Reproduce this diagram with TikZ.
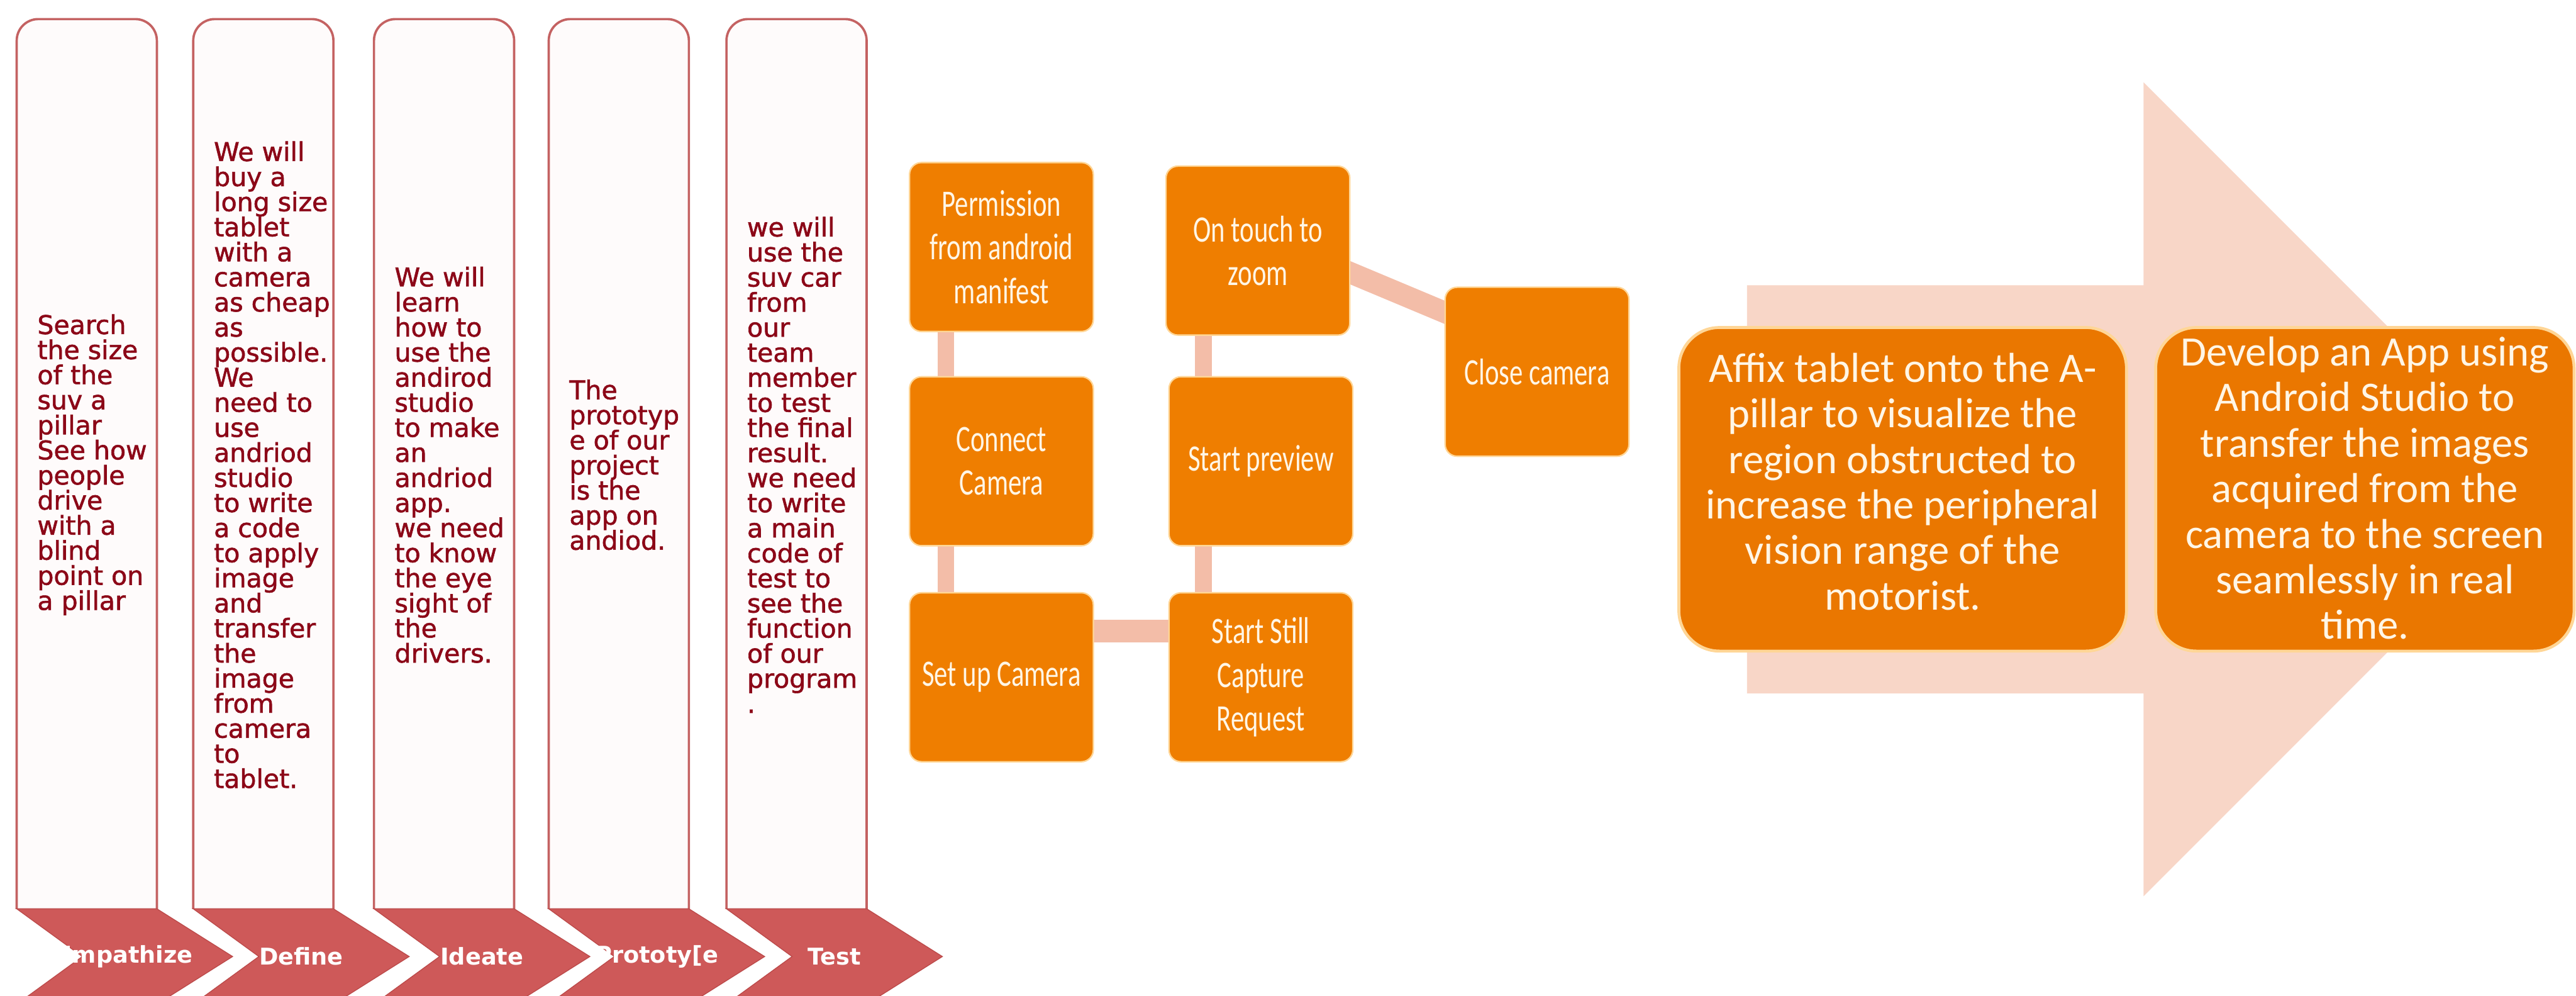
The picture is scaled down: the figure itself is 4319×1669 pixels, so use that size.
\documentclass[tikz,border=0pt]{standalone}
\usepackage{fontspec}
\newfontfamily\dvs{DejaVu Sans}
\newfontfamily\dvsheavy[FakeBold=1.5]{DejaVu Sans}
\newfontfamily\carl{Carlito}
\newfontfamily\carln[FakeStretch=0.72]{Carlito}
\usetikzlibrary{calc}
\definecolor{colborder}{RGB}{196,98,98}
\definecolor{colfill}{RGB}{254,251,251}
\definecolor{coltext}{RGB}{140,8,24}
\definecolor{chev}{RGB}{206,89,89}
\definecolor{chevedge}{RGB}{188,74,74}
\definecolor{orng}{RGB}{239,126,0}
\definecolor{orngdark}{RGB}{234,119,0}
\definecolor{orngedge}{RGB}{255,214,150}
\definecolor{linkc}{RGB}{243,189,168}
\definecolor{bigarrow}{RGB}{248,214,199}
\definecolor{boxtext}{RGB}{255,246,230}
\pgfdeclarelayer{bg}
\pgfsetlayers{bg,main}
\tikzset{
  coltextstyle/.style={anchor=west, inner sep=0pt, align=left, text=coltext,
    font=\dvsheavy\fontsize{12.3pt}{11.95pt}\selectfont},
  chevlabel/.style={inner sep=0pt, text=white,
    font=\dvs\bfseries\fontsize{11pt}{13pt}\selectfont},
  stepbox/.style={rectangle, rounded corners=0.2cm, fill=orng, draw=orngedge,
    line width=0.7pt, minimum width=3.08cm, minimum height=2.83cm, inner sep=0pt,
    align=center, text=boxtext, font=\carln\fontsize{17.8pt}{20.8pt}\selectfont},
  bigbox/.style={rectangle, rounded corners=0.68cm, fill=orngdark, draw=orngedge,
    line width=1.4pt, minimum height=5.42cm, inner sep=0pt},
  bigtext/.style={inner sep=0pt, align=center, text=boxtext,
    font=\carl\fontsize{20pt}{21.7pt}\selectfont},
  vlink/.style={draw=linkc, line width=0.28cm, shorten <=-0.1cm, shorten >=-0.1cm},
  hlink/.style={draw=linkc, line width=0.38cm, shorten <=-0.1cm, shorten >=-0.1cm},
  dlink/.style={draw=linkc, line width=0.36cm, shorten <=-0.15cm, shorten >=-0.15cm},
}
\begin{document}
\begin{tikzpicture}[x=0.01cm, y=-0.01cm]
\useasboundingbox (0,0) rectangle (4319,1669);
\begin{pgfonlayer}{bg}
\fill[white] (0,0) rectangle (4319,1669);
\end{pgfonlayer}

% ---- design-thinking columns ----
\foreach \L in {28,324,627,920,1218} {
  \pgfmathsetmacro{\R}{\L+235}
  \begin{scope}
    \clip (\L-20,0) rectangle (\R+20,1523);
    \draw[draw=colborder, fill=colfill, line width=1.1pt, rounded corners=0.36cm]
      (\L,32) rectangle (\R,1700);
  \end{scope}
  \draw[fill=chev, draw=chevedge, line width=0.4pt]
    (\L,1523) -- (\R,1523) -- (\R+127,1603) -- (\R,1683) -- (\L,1683) -- (\L+110,1603) -- cycle;
}

\node[coltextstyle] (c1) at (62,779) {Search\\the size\\of the\\suv a\\pillar\\See how\\people\\drive\\with a\\blind\\point on\\a pillar};
\node[coltextstyle] (c2) at (358,779) {We will\\buy a\\long size\\tablet\\with a\\camera\\as cheap\\as\\possible.\\We\\need to\\use\\andriod\\studio\\to write\\a code\\to apply\\image\\and\\transfer\\the\\image\\from\\camera\\to\\tablet.};
\node[coltextstyle] (c3) at (661,779) {We will\\learn\\how to\\use the\\andirod\\studio\\to make\\an\\andriod\\app.\\we need\\to know\\the eye\\sight of\\the\\drivers.};
\node[coltextstyle] (c4) at (954,779) {The\\prototyp\\e of our\\project\\is the\\app on\\andiod.};
\node[coltextstyle] (c5) at (1252,779) {we will\\use the\\suv car\\from\\our\\team\\member\\to test\\the final\\result.\\we need\\to write\\a main\\code of\\test to\\see the\\function\\of our\\program\\.};

\node[chevlabel] (l1) at (209,1603) {Empathize};
\node[chevlabel] (l2) at (505,1603) {Define};
\node[chevlabel] (l3) at (808,1603) {Ideate};
\node[chevlabel] (l4) at (1101,1603) {Prototy[e};
\node[chevlabel] (l5) at (1399,1603) {Test};

% ---- camera flow ----
\node[stepbox] (perm) at (1679,414) {Permission\\from android\\manifest};
\node[stepbox] (conn) at (1679,773) {Connect\\Camera};
\node[stepbox] (setup) at (1679,1135) {Set up Camera};
\node[stepbox] (touch) at (2109,420) {On touch to\\zoom};
\node[stepbox] (prev) at (2114,773) {Start preview};
\node[stepbox] (still) at (2114,1135) {Start Still\\Capture\\Request};
\node[stepbox] (close) at (2577,623) {Close camera};

\begin{pgfonlayer}{bg}
\draw[vlink] ([xshift=0.62cm]perm.south west) -- ([xshift=0.62cm]conn.north west);
\draw[vlink] ([xshift=0.62cm]conn.south west) -- ([xshift=0.62cm]setup.north west);
\draw[vlink] ([xshift=0.59cm]prev.north west) -- ([xshift=0.59cm]prev.north west |- touch.south);
\draw[vlink] ([xshift=0.59cm]prev.south west) -- ([xshift=0.59cm]still.north west);
\draw[hlink] ([yshift=-0.65cm]setup.north east) -- ([yshift=-0.65cm]setup.north east -| still.west);
\draw[dlink] ([yshift=-1.8cm]touch.north east) -- ([yshift=-0.43cm]close.north west);
\end{pgfonlayer}

% ---- solution arrow ----
\fill[bigarrow] (2929,478) -- (3594,478) -- (3594,138) -- (4276,820) -- (3594,1502) -- (3594,1162) -- (2929,1162) -- cycle;

\node[bigbox, minimum width=7.5cm] (affix) at (3190,820) {};
\node[bigtext] (affixtext) at ([yshift=0.13cm]affix.center) {Affix tablet onto the A-\\pillar to visualize the\\region obstructed to\\increase the peripheral\\vision range of the\\motorist.};
\node[bigbox, minimum width=7.01cm] (dev) at (3965,820) {};
\node[bigtext] (devtext) at ([yshift=0.02cm]dev.center) {Develop an App using\\Android Studio to\\transfer the images\\acquired from the\\camera to the screen\\seamlessly in real\\time.};
\end{tikzpicture}
\end{document}
